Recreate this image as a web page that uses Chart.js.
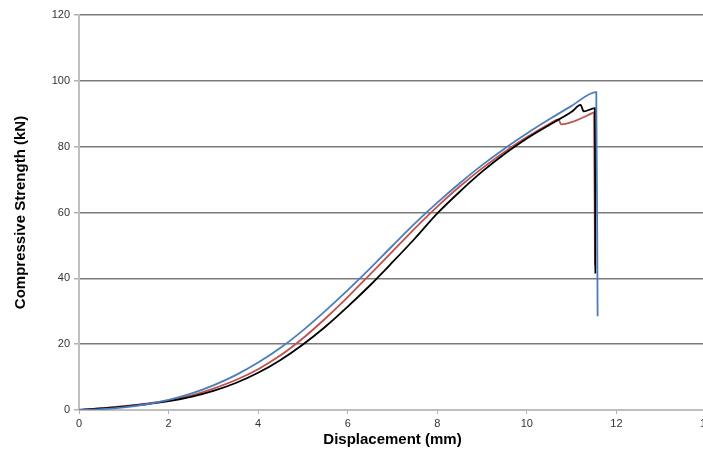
<!DOCTYPE html>
<html>
<head>
<meta charset="utf-8">
<script src="https://cdn.jsdelivr.net/npm/chart.js@4/dist/chart.umd.min.js"></script>
<style>
  html, body { margin: 0; padding: 0; background: #fff; overflow: hidden; }
  #wrap { width: 703px; height: 450px; overflow: hidden; }
</style>
</head>
<body>
<div id="wrap"><canvas id="chart" width="720" height="450"></canvas></div>
<script>
// Data (displacement in mm, load in kN)
var blueX = [0, 0.5, 1, 1.5, 2, 2.5, 3, 3.5, 4, 4.5, 5, 5.5, 6, 6.5, 7, 7.5, 8, 8.5, 9, 9.5, 10, 10.5, 11, 11.55, 11.58];
var blueY = [0, 0.25, 0.8, 1.75, 3.1, 5.0, 7.5, 10.6, 14.4, 18.9, 24.2, 30.1, 36.4, 43.0, 49.9, 56.7, 63.0, 68.9, 74.4, 79.4, 84.0, 88.3, 92.4, 96.6, 28.5];

var blackX = [0, 0.5, 1, 1.5, 2, 2.5, 3, 3.5, 4, 4.5, 5, 5.5, 6, 6.5, 7, 7.5, 8, 8.5, 9, 9.5, 10, 10.5, 11, 11.2, 11.27, 11.52, 11.53];
var blackY = [0, 0.5, 1.05, 1.75, 2.7, 4.0, 5.8, 8.2, 11.3, 15.2, 19.9, 25.3, 31.4, 37.9, 44.9, 52.1, 59.7, 66.3, 72.4, 77.8, 82.5, 86.6, 90.6, 92.7, 90.7, 91.7, 41.5];

var redX = [0, 0.5, 1, 1.5, 2, 2.5, 3, 3.5, 4, 4.5, 5, 5.5, 6, 6.5, 7, 7.5, 8, 8.5, 9, 9.5, 10, 10.5, 10.71, 10.76, 11.46, 11.5, 11.52];
var redY = [0, 0.55, 1.15, 1.9, 2.9, 4.4, 6.5, 9.1, 12.4, 16.6, 21.8, 27.8, 34.3, 41.2, 48.2, 55.2, 61.8, 67.9, 73.4, 78.4, 82.9, 86.9, 88.3, 86.8, 90.2, 90.5, 44];

var yTicks = [0, 20, 40, 60, 80, 100, 120];
var xTicks = [0, 2, 4, 6, 8, 10, 12, 14];

function pairs(xs, ys) {
    return xs.map(function (x, i) { return { x: x, y: ys[i] }; });
}

function series(label, xs, ys, color) {
    return {
        label: label,
        data: pairs(xs, ys),
        borderColor: color,
        borderWidth: 1.8,
        pointRadius: 0,
        showLine: true,
        fill: false,
        cubicInterpolationMode: "monotone"
    };
}

var ctx = document.querySelector("#chart");
var chart = new Chart(ctx, {
    type: "scatter",
    data: {
        datasets: [
            series("Specimen 3", blueX, blueY, "#4a7ebb"),
            series("Specimen 2", blackX, blackY, "#000000"),
            series("Specimen 1", redX, redY, "#c0504d")
        ]
    },
    options: {
        responsive: false,
        animation: false,
        layout: { padding: { top: 15, right: 14, left: 0, bottom: 0 } },
        plugins: {
            legend: { display: false },
            tooltip: { enabled: false }
        },
        scales: {
            x: {
                type: "linear",
                min: 0,
                max: 14,
                afterBuildTicks: function (scale) {
                    scale.ticks = xTicks.map(function (v) { return { value: v }; });
                },
                afterFit: function (scale) { scale.height = 40; },
                grid: {
                    drawOnChartArea: false,
                    drawTicks: true,
                    tickLength: 4,
                    tickColor: "#b0b0b0"
                },
                border: { color: "#bfbfbf", width: 2 },
                ticks: {
                    padding: 3,
                    color: "#333",
                    font: { family: "Liberation Sans", size: 11 }
                },
                title: {
                    display: true,
                    text: "Displacement (mm)",
                    color: "#000",
                    padding: { top: 0, bottom: 1 },
                    font: { family: "Liberation Sans", size: 15, weight: "bold" }
                }
            },
            y: {
                min: 0,
                max: 120,
                afterBuildTicks: function (scale) {
                    scale.ticks = yTicks.map(function (v) { return { value: v }; });
                },
                afterFit: function (scale) { scale.width = 79; },
                grid: {
                    color: function (c) { return c.tick && c.tick.value === 0 ? "rgba(0,0,0,0)" : "#7a7a7a"; },
                    lineWidth: 1.5,
                    tickLength: 5,
                    tickColor: "#b0b0b0"
                },
                border: { color: "#bfbfbf", width: 2 },
                ticks: {
                    padding: 4,
                    color: "#333",
                    font: { family: "Liberation Sans", size: 11 }
                },
                title: {
                    display: true,
                    text: "Compressive Strength (kN)",
                    color: "#000",
                    padding: { top: 12, bottom: 0 },
                    font: { family: "Liberation Sans", size: 15, weight: "bold" }
                }
            }
        }
    }
});
</script>
</body>
</html>
